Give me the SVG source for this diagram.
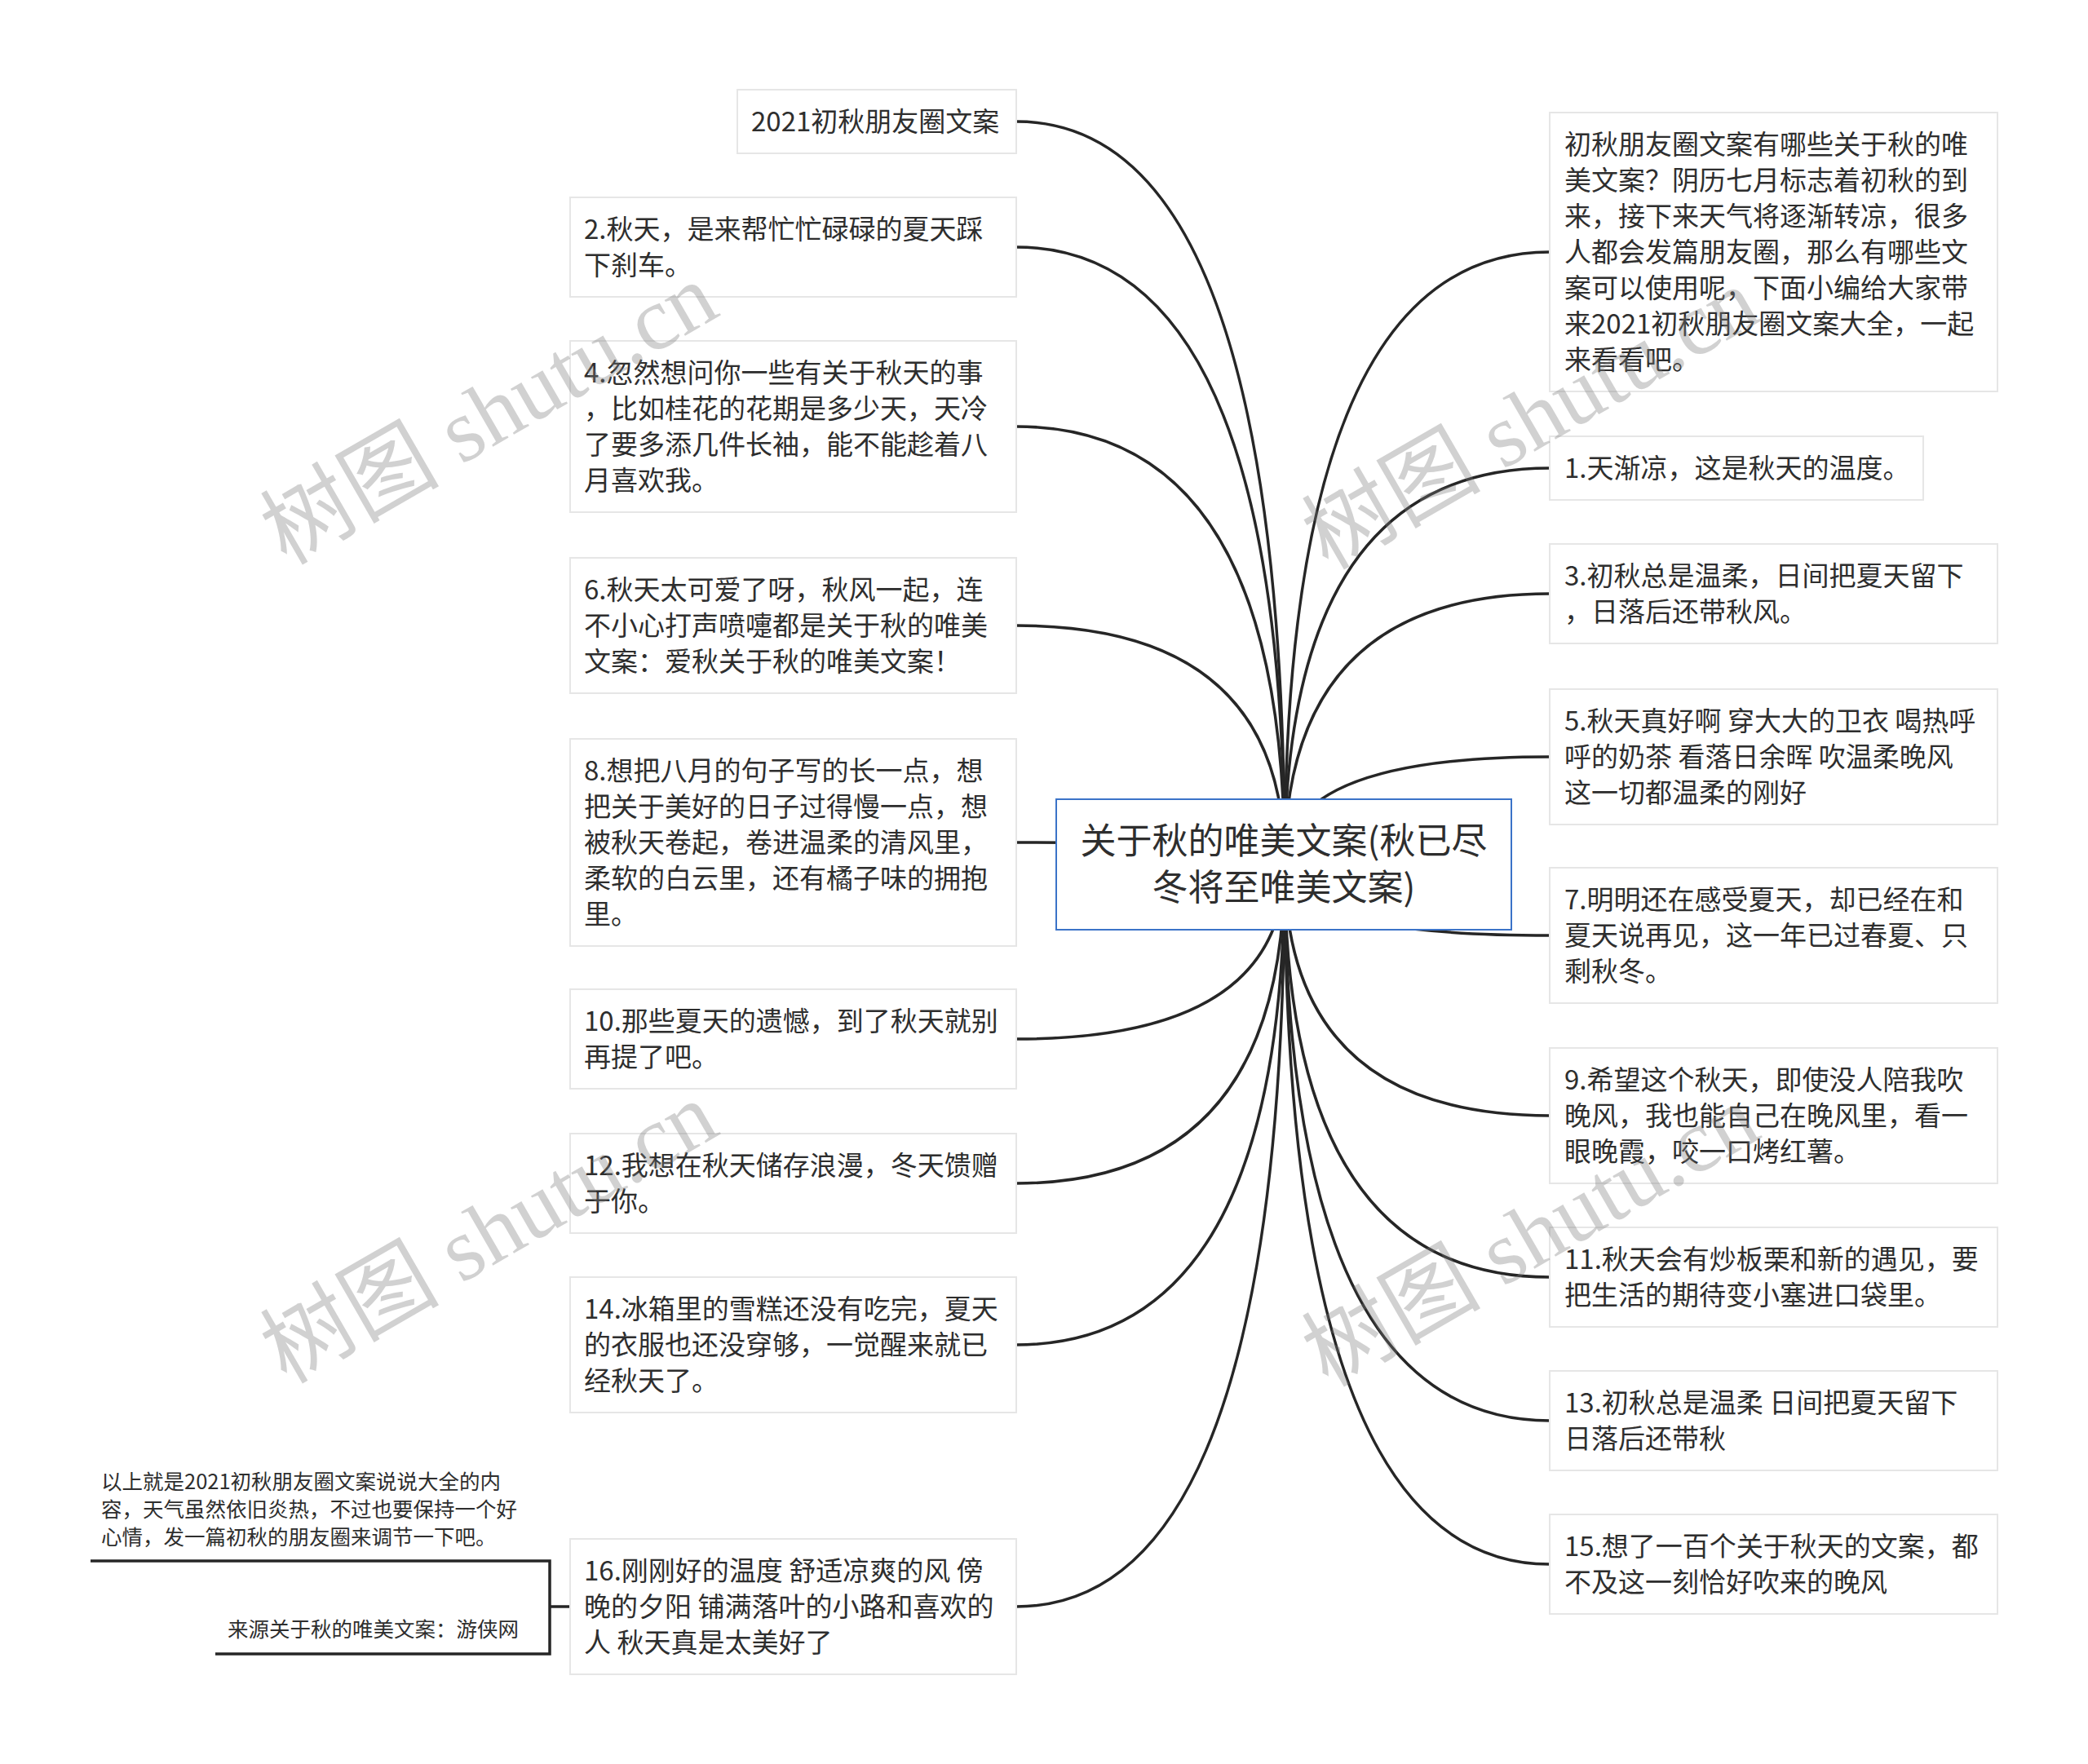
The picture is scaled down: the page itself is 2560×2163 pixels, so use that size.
<svg xmlns="http://www.w3.org/2000/svg" width="2560" height="2163" viewBox="0 0 2560 2163">
<style>
.box{fill:#fff;stroke:#e6e6e6;stroke-width:2}
.root{fill:#fff;stroke:#3b73c8;stroke-width:2}
.t{font-family:"Noto Sans CJK SC","Microsoft YaHei",sans-serif;font-size:33px;fill:#2e2e2e}
.rt{font-family:"Noto Sans CJK SC","Microsoft YaHei",sans-serif;font-size:44px;fill:#2e2e2e;text-anchor:middle}
.n{font-family:"Noto Sans CJK SC","Microsoft YaHei",sans-serif;font-size:25.5px;fill:#2e2e2e}
.c{fill:none;stroke:#262626;stroke-width:3.5}
.wm{font-family:"Liberation Serif","Noto Sans CJK SC",serif;font-size:110px;fill:#7a7a7a;fill-opacity:0.35}
</style>
<rect width="2560" height="2163" fill="#fff"/>
<g id="connectors">
<path class="c" d="M1246,149 Q1575,149 1575,1060"/>
<path class="c" d="M1246,303 Q1575,303 1575,1060"/>
<path class="c" d="M1246,523 Q1575,523 1575,1060"/>
<path class="c" d="M1246,767 Q1575,767 1575,1060"/>
<path class="c" d="M1246,1033 Q1575,1033 1575,1060"/>
<path class="c" d="M1246,1274 Q1575,1274 1575,1060"/>
<path class="c" d="M1246,1451 Q1575,1451 1575,1060"/>
<path class="c" d="M1246,1649 Q1575,1649 1575,1060"/>
<path class="c" d="M1246,1970 Q1575,1970 1575,1060"/>
<path class="c" d="M1900,309 Q1575,309 1575,1060"/>
<path class="c" d="M1900,574 Q1575,574 1575,1060"/>
<path class="c" d="M1900,728 Q1575,728 1575,1060"/>
<path class="c" d="M1900,928 Q1575,928 1575,1060"/>
<path class="c" d="M1900,1147 Q1575,1147 1575,1060"/>
<path class="c" d="M1900,1368 Q1575,1368 1575,1060"/>
<path class="c" d="M1900,1566 Q1575,1566 1575,1060"/>
<path class="c" d="M1900,1742 Q1575,1742 1575,1060"/>
<path class="c" d="M1900,1918 Q1575,1918 1575,1060"/>
<path class="c" d="M111,1914 H674 V2028 H264"/>
<path class="c" d="M674,1970 H699"/>
</g>
<g id="root">
<rect class="root" x="1295" y="980" width="558" height="160"/>
<text class="rt"><tspan x="1574" y="1047">关于秋的唯美文案(秋已尽</tspan><tspan x="1574" y="1104">冬将至唯美文案)</tspan></text>
</g>
<g id="L1"><rect class="box" x="904" y="110" width="342" height="78"/>
<text class="t"><tspan x="921" y="161">2021初秋朋友圈文案</tspan></text></g>
<g id="L2"><rect class="box" x="699" y="242" width="547" height="122"/>
<text class="t"><tspan x="716" y="293">2.秋天，是来帮忙忙碌碌的夏天踩</tspan><tspan x="716" y="337">下刹车。</tspan></text></g>
<g id="L3"><rect class="box" x="699" y="418" width="547" height="210"/>
<text class="t"><tspan x="716" y="469">4.忽然想问你一些有关于秋天的事</tspan><tspan x="716" y="513">，比如桂花的花期是多少天，天冷</tspan><tspan x="716" y="557">了要多添几件长袖，能不能趁着八</tspan><tspan x="716" y="601">月喜欢我。</tspan></text></g>
<g id="L4"><rect class="box" x="699" y="684" width="547" height="166"/>
<text class="t"><tspan x="716" y="735">6.秋天太可爱了呀，秋风一起，连</tspan><tspan x="716" y="779">不小心打声喷嚏都是关于秋的唯美</tspan><tspan x="716" y="823">文案：爱秋关于秋的唯美文案！</tspan></text></g>
<g id="L5"><rect class="box" x="699" y="906" width="547" height="254"/>
<text class="t"><tspan x="716" y="957">8.想把八月的句子写的长一点，想</tspan><tspan x="716" y="1001">把关于美好的日子过得慢一点，想</tspan><tspan x="716" y="1045">被秋天卷起，卷进温柔的清风里，</tspan><tspan x="716" y="1089">柔软的白云里，还有橘子味的拥抱</tspan><tspan x="716" y="1133">里。</tspan></text></g>
<g id="L6"><rect class="box" x="699" y="1213" width="547" height="122"/>
<text class="t"><tspan x="716" y="1264">10.那些夏天的遗憾，到了秋天就别</tspan><tspan x="716" y="1308">再提了吧。</tspan></text></g>
<g id="L7"><rect class="box" x="699" y="1390" width="547" height="122"/>
<text class="t"><tspan x="716" y="1441">12.我想在秋天储存浪漫，冬天馈赠</tspan><tspan x="716" y="1485">于你。</tspan></text></g>
<g id="L8"><rect class="box" x="699" y="1566" width="547" height="166"/>
<text class="t"><tspan x="716" y="1617">14.冰箱里的雪糕还没有吃完，夏天</tspan><tspan x="716" y="1661">的衣服也还没穿够，一觉醒来就已</tspan><tspan x="716" y="1705">经秋天了。</tspan></text></g>
<g id="L9"><rect class="box" x="699" y="1887" width="547" height="166"/>
<text class="t"><tspan x="716" y="1938">16.刚刚好的温度 舒适凉爽的风 傍</tspan><tspan x="716" y="1982">晚的夕阳 铺满落叶的小路和喜欢的</tspan><tspan x="716" y="2026">人 秋天真是太美好了</tspan></text></g>
<g id="R0"><rect class="box" x="1900" y="138" width="549" height="342"/>
<text class="t"><tspan x="1918" y="189">初秋朋友圈文案有哪些关于秋的唯</tspan><tspan x="1918" y="233">美文案？阴历七月标志着初秋的到</tspan><tspan x="1918" y="277">来，接下来天气将逐渐转凉，很多</tspan><tspan x="1918" y="321">人都会发篇朋友圈，那么有哪些文</tspan><tspan x="1918" y="365">案可以使用呢，下面小编给大家带</tspan><tspan x="1918" y="409">来2021初秋朋友圈文案大全，一起</tspan><tspan x="1918" y="453">来看看吧。</tspan></text></g>
<g id="R1"><rect class="box" x="1900" y="535" width="458" height="78"/>
<text class="t"><tspan x="1918" y="586">1.天渐凉，这是秋天的温度。</tspan></text></g>
<g id="R2"><rect class="box" x="1900" y="667" width="549" height="122"/>
<text class="t"><tspan x="1918" y="718">3.初秋总是温柔，日间把夏天留下</tspan><tspan x="1918" y="762">，日落后还带秋风。</tspan></text></g>
<g id="R3"><rect class="box" x="1900" y="845" width="549" height="166"/>
<text class="t"><tspan x="1918" y="896">5.秋天真好啊 穿大大的卫衣 喝热呼</tspan><tspan x="1918" y="940">呼的奶茶 看落日余晖 吹温柔晚风</tspan><tspan x="1918" y="984">这一切都温柔的刚好</tspan></text></g>
<g id="R4"><rect class="box" x="1900" y="1064" width="549" height="166"/>
<text class="t"><tspan x="1918" y="1115">7.明明还在感受夏天，却已经在和</tspan><tspan x="1918" y="1159">夏天说再见，这一年已过春夏、只</tspan><tspan x="1918" y="1203">剩秋冬。</tspan></text></g>
<g id="R5"><rect class="box" x="1900" y="1285" width="549" height="166"/>
<text class="t"><tspan x="1918" y="1336">9.希望这个秋天，即使没人陪我吹</tspan><tspan x="1918" y="1380">晚风，我也能自己在晚风里，看一</tspan><tspan x="1918" y="1424">眼晚霞，咬一口烤红薯。</tspan></text></g>
<g id="R6"><rect class="box" x="1900" y="1505" width="549" height="122"/>
<text class="t"><tspan x="1918" y="1556">11.秋天会有炒板栗和新的遇见，要</tspan><tspan x="1918" y="1600">把生活的期待变小塞进口袋里。</tspan></text></g>
<g id="R7"><rect class="box" x="1900" y="1681" width="549" height="122"/>
<text class="t"><tspan x="1918" y="1732">13.初秋总是温柔 日间把夏天留下</tspan><tspan x="1918" y="1776">日落后还带秋</tspan></text></g>
<g id="R8"><rect class="box" x="1900" y="1857" width="549" height="122"/>
<text class="t"><tspan x="1918" y="1908">15.想了一百个关于秋天的文案，都</tspan><tspan x="1918" y="1952">不及这一刻恰好吹来的晚风</tspan></text></g>
<g id="note1"><text class="n"><tspan x="124" y="1826">以上就是2021初秋朋友圈文案说说大全的内</tspan><tspan x="124" y="1860">容，天气虽然依旧炎热，不过也要保持一个好</tspan><tspan x="124" y="1894">心情，发一篇初秋的朋友圈来调节一下吧。</tspan></text></g>
<g id="note2"><text class="n" text-anchor="end"><tspan x="636" y="2007">来源关于秋的唯美文案：游侠网</tspan></text></g>
<g id="watermarks">
<text class="wm" transform="translate(351,694) rotate(-30)">树图 shutu.cn</text>
<text class="wm" transform="translate(1628,700) rotate(-30)">树图 shutu.cn</text>
<text class="wm" transform="translate(351,1698) rotate(-30)">树图 shutu.cn</text>
<text class="wm" transform="translate(1628,1702) rotate(-30)">树图 shutu.cn</text>
</g>
</svg>
